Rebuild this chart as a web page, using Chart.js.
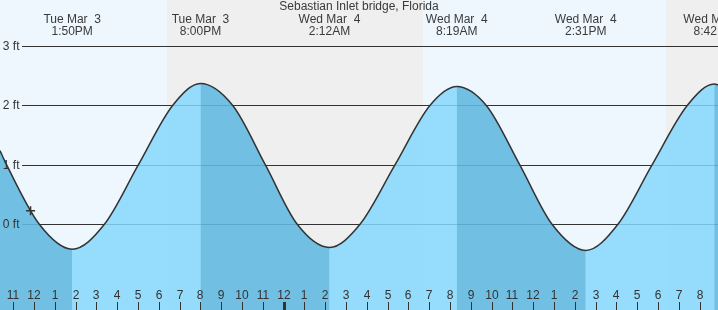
<!DOCTYPE html>
<html>
<head>
<meta charset="utf-8">
<script src="https://cdn.jsdelivr.net/npm/chart.js@4"></script>
<style>
  html, body { margin: 0; padding: 0; background: #fff; }
  #wrap { width: 718px; height: 310px; }
</style>
</head>
<body>
<div id="wrap"><canvas id="tideChart" width="718" height="310"></canvas></div>
<script>
// hours counted from Tue Mar 3, 00:00
const tideHours = [10.36, 10.68, 12.25, 13.83, 15.38, 17.01, 18.66, 20.0, 21.55, 23.12, 24.65, 26.2,
                   27.67, 29.35, 31.03, 32.32, 33.74, 35.35, 36.90, 38.52, 40.07, 41.71, 43.40, 44.70, 44.88];
const tideFeet = [1.24, 1.0, 0, -0.42, 0, 1, 2, 2.37, 2, 1, 0, -0.39,
                  0, 1, 2, 2.32, 2, 1, 0, -0.44, 0, 1, 2, 2.36, 2.35];

// high / low labels along the top
const extremeHours = [13.83, 20.0, 26.2, 32.32, 38.52, 44.7];
const extremeDays = ['Tue Mar  3', 'Tue Mar  3', 'Wed Mar  4', 'Wed Mar  4', 'Wed Mar  4', 'Wed Mar  4'];
const extremeTimes = ['1:50PM', '8:00PM', '2:12AM', '8:19AM', '2:31PM', '8:42PM'];

// sunset -> sunrise
const nightBands = [[18.37, 30.68], [42.37, 46]];

const feetTicks = [0, 1, 2, 3];
const feetLabels = ['0 ft', '1 ft', '2 ft', '3 ft'];

const hourTicks = [];
for (let h = 11; h <= 44; h++) hourTicks.push(h);
const hourLabels = hourTicks.map(h => String(((h + 11) % 12) + 1));

const nowHour = 11.83;
const nowFeet = 0.23;

const FONT = '12px "Liberation Sans", Arial, sans-serif';
const TEXT = '#333';
const WATER = 'rgba(133, 215, 253, 0.85)';
const EBB_SHADE = 'rgba(9, 108, 153, 0.25)';   // laid over WATER while the tide falls

const tidePoints = tideHours.map((h, i) => ({ x: h, y: tideFeet[i] }));

const tidePlugin = {
  id: 'tideDecor',
  beforeDraw(chart) {
    const { ctx, scales: { x } } = chart;
    ctx.save();
    ctx.fillStyle = '#eef7fe';
    ctx.fillRect(0, 0, chart.width, chart.height);
    ctx.fillStyle = '#efefef';
    nightBands.forEach(([s, e]) => {
      const x0 = Math.round(x.getPixelForValue(s));
      const x1 = Math.round(x.getPixelForValue(e));
      ctx.fillRect(x0, 0, x1 - x0, chart.height);
    });
    ctx.restore();
  },
  beforeDatasetsDraw(chart) {
    const { ctx, scales: { y } } = chart;
    ctx.save();
    ctx.strokeStyle = '#333';
    ctx.lineWidth = 1;
    feetTicks.forEach(v => {
      const py = Math.round(y.getPixelForValue(v)) + 0.5;
      ctx.beginPath();
      ctx.moveTo(22, py);
      ctx.lineTo(chart.width, py);
      ctx.stroke();
    });
    ctx.restore();
  },
  afterDatasetsDraw(chart) {
    const { ctx, scales: { x, y } } = chart;
    ctx.save();
    ctx.font = FONT;
    ctx.fillStyle = TEXT;

    // feet labels
    ctx.textAlign = 'right';
    ctx.textBaseline = 'middle';
    feetTicks.forEach((v, i) => {
      ctx.fillText(feetLabels[i], 19.5, y.getPixelForValue(v) + 0.5);
    });

    // hour ticks along the bottom
    ctx.textAlign = 'center';
    hourTicks.forEach((h, i) => {
      const px = Math.round(x.getPixelForValue(h));
      ctx.fillText(hourLabels[i], px, 295.5);
      if (h % 24 === 0) {
        ctx.fillRect(px - 1, 302, 3, 8);
      } else {
        ctx.fillRect(px, 302, 1, 8);
      }
    });

    // title and high / low times
    ctx.fillStyle = '#3a3a3a';
    ctx.fillText('Sebastian Inlet bridge, Florida', chart.width / 2, 7);
    extremeHours.forEach((h, i) => {
      const px = x.getPixelForValue(h);
      ctx.fillText(extremeDays[i], px, 19.5);
      ctx.fillText(extremeTimes[i], px, 31.5);
    });
    ctx.restore();
  }
};

const ctx = document.getElementById('tideChart').getContext('2d');
const chart = new Chart(ctx, {
  type: 'line',
  data: {
    datasets: [
      {
        type: 'scatter',
        data: [{ x: nowHour, y: nowFeet }],
        pointStyle: 'cross',
        pointRadius: 4.5,
        borderColor: '#333',
        borderWidth: 1.5,
        order: 0
      },
      {
        // tide line on top
        data: tidePoints,
        borderColor: '#333',
        borderWidth: 1.5,
        pointRadius: 0,
        cubicInterpolationMode: 'monotone',
        fill: false,
        order: 1
      },
      {
        // darker shade for falling tide
        data: tidePoints,
        borderWidth: 0,
        borderColor: 'rgba(0,0,0,0)',
        pointRadius: 0,
        cubicInterpolationMode: 'monotone',
        fill: 'start',
        backgroundColor: EBB_SHADE,
        segment: {
          backgroundColor: c => (c.p1.parsed.y < c.p0.parsed.y ? EBB_SHADE : 'rgba(0,0,0,0)')
        },
        order: 2
      },
      {
        // water body
        data: tidePoints,
        borderWidth: 0,
        borderColor: 'rgba(0,0,0,0)',
        pointRadius: 0,
        cubicInterpolationMode: 'monotone',
        fill: 'start',
        backgroundColor: WATER,
        order: 3
      }
    ]
  },
  options: {
    responsive: false,
    animation: false,
    events: [],
    layout: { padding: 0, autoPadding: false },
    plugins: { legend: { display: false }, tooltip: { enabled: false } },
    scales: {
      x: { type: 'linear', min: 10.3606, max: 44.88, display: false },
      y: { type: 'linear', min: -1.443, max: 3.776, display: false }
    }
  },
  plugins: [tidePlugin]
});
</script>
</body>
</html>
